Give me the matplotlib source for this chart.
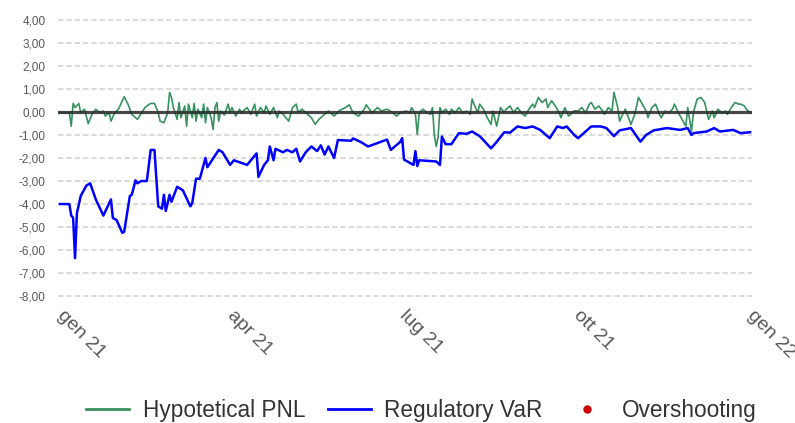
import numpy as np
import pandas as pd
import matplotlib
matplotlib.use("Agg")
import matplotlib.pyplot as plt
import matplotlib.transforms as mtransforms
from matplotlib.lines import Line2D
from matplotlib.ticker import FuncFormatter

plt.rcParams['font.family'] = ['Liberation Sans', 'DejaVu Sans']

start = pd.Timestamp('2021-01-01')

# Regulatory VaR (days from 1 Jan 2021, value)
var_days = [0, 5, 6, 7, 8, 9, 11, 14, 16, 19, 23, 27, 28, 30, 33, 34, 37, 38, 40, 41,
            43, 46, 48, 50, 52, 54, 55, 56, 58, 59, 62, 65, 69, 70, 72, 74, 77, 78, 80, 84,
            86, 90, 92, 99, 104, 105, 108, 110, 111, 113, 114, 118, 120, 123, 125, 127, 130, 133, 136, 138,
            140, 142, 145, 147, 154, 155, 159, 163, 168, 173, 175, 180, 181, 182, 187, 188, 189, 190, 199, 201,
            202, 204, 207, 211, 215, 218, 222, 228, 231, 235, 238, 242, 246, 250, 254, 259, 263, 266, 268, 272,
            274, 281, 286, 289, 293, 296, 302, 307, 310, 314, 321, 328, 332, 334, 335, 342, 346, 349, 356, 360,
            365]
var_vals = [-4.0, -4.0, -4.5, -4.6, -6.35, -4.4, -3.65, -3.2, -3.1, -3.8, -4.5, -3.8, -4.6, -4.7, -5.25, -5.2, -3.65, -3.6, -2.97, -3.1,
            -3.0, -3.0, -1.65, -1.65, -4.1, -4.2, -3.6, -4.3, -3.6, -3.9, -3.25, -3.4, -4.1, -3.95, -2.9, -2.9, -2.0, -2.4, -2.15, -1.65,
            -1.75, -2.3, -2.1, -2.3, -1.8, -2.82, -2.3, -2.1, -1.5, -2.1, -1.6, -1.75, -1.65, -1.75, -1.6, -2.15, -1.75, -1.5, -1.7, -1.45,
            -1.85, -1.5, -2.0, -1.22, -1.25, -1.15, -1.3, -1.5, -1.35, -1.2, -1.65, -1.3, -1.14, -2.07, -2.3, -1.7, -2.35, -2.1, -2.15, -2.3,
            -1.07, -1.4, -1.4, -0.92, -0.95, -0.85, -1.05, -1.58, -1.3, -0.88, -0.9, -0.63, -0.7, -0.63, -0.78, -1.14, -0.63, -0.7, -0.63, -1.0,
            -1.14, -0.63, -0.63, -0.7, -1.05, -0.8, -0.7, -1.29, -1.0, -0.8, -0.7, -0.78, -0.7, -1.0, -0.92, -0.85, -0.7, -0.85, -0.78, -0.92,
            -0.88]

# Hypotetical PNL (days from 1 Jan 2021, value)
pnl_days = [0, 5, 6, 7, 8, 10, 11, 13, 15, 17, 19, 21, 23, 24, 26, 27, 29, 31, 34, 36,
            38, 41, 45, 46, 48, 50, 52, 53, 55, 57, 58, 59, 60, 62, 63, 64, 66, 67, 68, 70,
            71, 72, 73, 75, 76, 77, 78, 80, 81, 82, 83, 84, 85, 87, 89, 90, 91, 93, 95, 96,
            99, 101, 103, 104, 106, 108, 109, 111, 113, 115, 116, 118, 121, 123, 125, 126, 128, 131, 133, 135,
            137, 140, 142, 145, 148, 151, 153, 155, 158, 161, 162, 165, 168, 170, 173, 176, 178, 180, 183, 185,
            186, 188, 189, 190, 192, 194, 196, 197, 198, 199, 200, 201, 202, 204, 206, 207, 209, 211, 213, 215,
            217, 218, 219, 221, 222, 224, 226, 228, 229, 231, 233, 235, 236, 238, 240, 242, 244, 246, 248, 250,
            251, 253, 255, 257, 258, 260, 262, 264, 265, 267, 269, 271, 272, 274, 276, 278, 280, 281, 283, 285,
            287, 288, 290, 292, 293, 295, 296, 298, 299, 301, 302, 304, 306, 308, 310, 311, 313, 315, 317, 318,
            320, 322, 324, 325, 327, 329, 331, 332, 334, 335, 337, 339, 341, 343, 345, 346, 348, 350, 352, 353,
            355, 357, 359, 360, 362, 363, 365]
pnl_vals = [-0.03, -0.03, -0.62, 0.37, 0.19, 0.37, -0.03, 0.12, -0.51, -0.10, 0.12, -0.03, 0.04, -0.18, -0.03, -0.40, -0.03, 0.12, 0.66, 0.34,
            -0.10, -0.32, 0.19, 0.26, 0.37, 0.37, -0.03, -0.40, -0.47, -0.03, 0.85, 0.63, 0.19, -0.32, 0.41, -0.25, 0.26, -0.62, 0.34, -0.25,
            0.37, -0.40, 0.12, -0.25, 0.34, -0.47, 0.19, -0.25, -0.76, 0.19, 0.41, -0.40, 0.04, -0.13, 0.34, -0.03, 0.19, -0.18, 0.12, -0.03,
            0.19, -0.10, 0.34, -0.18, 0.19, -0.03, 0.26, -0.10, 0.19, -0.25, 0.04, -0.10, -0.40, 0.19, 0.34, -0.03, 0.12, -0.10, -0.25, -0.54,
            -0.32, -0.10, 0.04, -0.18, 0.07, 0.19, 0.31, -0.03, -0.18, 0.12, 0.31, -0.03, 0.19, 0.04, 0.12, -0.03, -0.18, -0.03, 0.04, -0.03,
            0.19, -0.10, -0.98, -0.03, 0.12, -0.03, -0.10, 0.19, -0.98, -1.5, -1.1, 0.19, -0.03, 0.12, -0.10, 0.12, -0.03, 0.19, -0.03, 0.04,
            -0.10, 0.56, 0.34, -0.03, 0.34, 0.12, -0.25, -0.54, 0.04, -0.62, 0.19, -0.03, 0.12, 0.26, -0.03, 0.19, -0.03, -0.18, 0.12, 0.34,
            0.19, 0.63, 0.41, 0.56, 0.19, 0.49, 0.26, -0.03, -0.25, 0.19, -0.18, -0.03, 0.05, 0.04, 0.19, -0.03, 0.34, 0.41, 0.12, 0.26,
            0.04, -0.10, 0.19, 0.04, 0.85, 0.19, -0.40, -0.03, 0.12, -0.32, -0.54, -0.10, 0.63, 0.34, 0.04, -0.25, 0.19, 0.34, -0.10, -0.25,
            0.04, -0.03, 0.12, 0.34, -0.03, -0.32, -0.62, 0.19, -0.84, -0.03, 0.56, 0.63, 0.41, -0.32, 0.04, -0.25, 0.12, -0.03, 0.04, -0.10,
            0.19, 0.41, 0.34, 0.34, 0.26, 0.12, -0.03]

tick_dates = ['2021-01-01', '2021-04-01', '2021-07-01', '2021-10-01', '2022-01-01']
tick_labels = ['gen 21', 'apr 21', 'lug 21', 'ott 21', 'gen 22']
y_ticks = np.arange(-8, 5, 1)

var_dates = start + pd.to_timedelta(var_days, unit='D')
pnl_dates = start + pd.to_timedelta(pnl_days, unit='D')

fig = plt.figure(figsize=(7.95, 4.23), dpi=100)
ax = fig.add_axes([58 / 795, 1 - 298 / 423, 694 / 795, 280 / 423])

ax.plot(pnl_dates, pnl_vals, color='#3a9160', lw=1.2, zorder=3)
ax.plot(var_dates, var_vals, color='#0000ff', lw=1.8, zorder=3)
ax.axhline(0, color='#2a2a2a', lw=2.3, alpha=0.85, zorder=4)

ax.set_ylim(-8.08, 4.08)
ax.set_xlim(start - pd.Timedelta(days=1), pd.Timestamp('2022-01-02'))
ax.set_yticks(y_ticks)
ax.yaxis.set_major_formatter(FuncFormatter(lambda v, p: f"{v:.2f}".replace('.', ',')))
ax.set_xticks(pd.to_datetime(tick_dates))
ax.set_xticklabels([])

# rotated month labels, nudged left like the original
offset = mtransforms.ScaledTranslation(-6 / 100, -9 / 100, fig.dpi_scale_trans)
trans = ax.get_xaxis_transform() + offset
for d, lab in zip(pd.to_datetime(tick_dates), tick_labels):
    ax.text(d, 0, lab, transform=trans, rotation=-45, ha='left', va='top',
            fontsize=14, color='#595959', clip_on=False)

ax.tick_params(axis='y', length=0, pad=9, labelsize=8.5, labelcolor='#595959')
ax.tick_params(axis='x', length=0)
ax.grid(axis='y', color='#d8d8d8', lw=1.3, linestyle=(0, (3, 1.6)))
ax.set_axisbelow(True)
for s in ax.spines.values():
    s.set_visible(False)

handles = [Line2D([], [], color='#3a9160', lw=2),
           Line2D([], [], color='#0000ff', lw=2),
           Line2D([], [], color='#cc0000', marker='o', ls='none', markersize=5)]
fig.legend(handles, ['Hypotetical PNL', 'Regulatory VaR', 'Overshooting'],
           loc='lower center', bbox_to_anchor=(0.53, -0.045), ncol=3, frameon=False,
           fontsize=16.3, handlelength=1.9, handletextpad=0.6, columnspacing=1.0,
           labelcolor='#333333')

fig.savefig('out.png', dpi=100)
